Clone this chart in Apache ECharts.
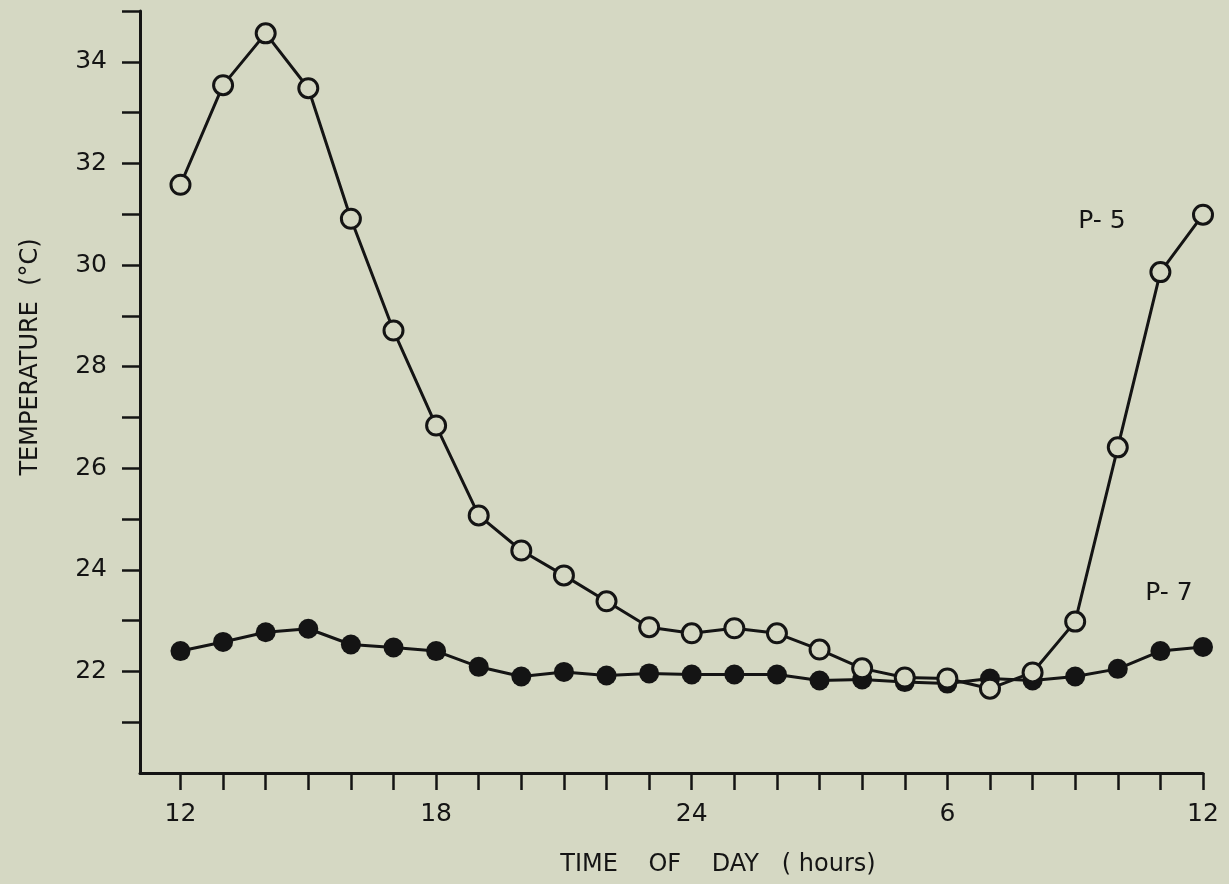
<!DOCTYPE html>
<html>
<head>
<meta charset="utf-8">
<script src="https://cdn.jsdelivr.net/npm/echarts@6/dist/echarts.min.js"></script>
<style>
html,body{margin:0;padding:0;background:#d5d8c3;}
#chart{width:1229px;height:884px;}
</style>
</head>
<body>
<div id="chart"></div>
<script>
// Hours (continuous: 12 .. 36, where 36 = noon next day)
const hours = [12,13,14,15,16,17,18,19,20,21,22,23,24,25,26,27,28,29,30,31,32,33,34,35,36];
// P-5 (open circles)
const p5 = [31.58,33.54,34.56,33.48,30.91,28.71,26.84,25.07,24.38,23.89,23.38,22.87,22.75,22.85,22.75,22.43,22.06,21.88,21.86,21.66,21.98,22.98,26.41,29.86,30.99];
// P-7 (filled circles)
const p7 = [22.40,22.58,22.77,22.84,22.53,22.47,22.40,22.09,21.90,21.99,21.92,21.96,21.94,21.94,21.94,21.82,21.84,21.79,21.76,21.86,21.82,21.90,22.05,22.40,22.48];
const xTickValues = [12,13,14,15,16,17,18,19,20,21,22,23,24,25,26,27,28,29,30,31,32,33,34,35,36];
const xLabelValues = [12,18,24,30,36];
const xLabelText = {12:'12',18:'18',24:'24',30:'6',36:'12'};
const yTickValues = [21,22,23,24,25,26,27,28,29,30,31,32,33,34,35];
const yLabelValues = [22,24,26,28,30,32,34];

const BG = '#d5d8c3';
const INK = '#141414';
const FONT = 'DejaVu Sans';

const chart = echarts.init(document.getElementById('chart'), null, {renderer:'canvas'});
chart.setOption({
  backgroundColor: BG,
  animation: false,
  grid: {left:140, right:26, top:11, bottom:111, containLabel:false},
  xAxis: {
    type:'value', min:11.05, max:36,
    axisLine:{show:true, lineStyle:{color:INK, width:3}},
    axisTick:{show:true, inside:false, length:17, lineStyle:{color:INK, width:2.5}, customValues:xTickValues},
    axisLabel:{show:true, margin:29, color:INK, fontSize:25, fontFamily:FONT, customValues:xLabelValues,
      formatter:v=>xLabelText[v] !== undefined ? xLabelText[v] : ''},
    splitLine:{show:false}
  },
  yAxis: {
    type:'value', min:20, max:35,
    axisLine:{show:true, lineStyle:{color:INK, width:3}},
    axisTick:{show:true, inside:false, length:18, lineStyle:{color:INK, width:2.5}, customValues:yTickValues},
    axisLabel:{show:true, margin:33, color:INK, fontSize:25, fontFamily:FONT, customValues:yLabelValues},
    splitLine:{show:false}
  },
  series: [
    {
      name:'P-7', type:'line',
      data: hours.map((h,i)=>[h,p7[i]]),
      symbol:'circle', symbolSize:20,
      itemStyle:{color:INK, borderColor:INK, borderWidth:0},
      lineStyle:{color:INK, width:3},
      z:2
    },
    {
      name:'P-5', type:'line',
      data: hours.map((h,i)=>[h,p5[i]]),
      symbol:'circle', symbolSize:19,
      itemStyle:{color:BG, borderColor:INK, borderWidth:3},
      lineStyle:{color:INK, width:3},
      z:3
    }
  ],
  graphic: [
    {type:'text', position:[718,865], style:{text:'TIME    OF    DAY   ( hours)', font:'24px "DejaVu Sans"', fill:INK, textAlign:'center', textVerticalAlign:'middle'}},
    {type:'text', rotation:Math.PI/2, position:[31,357], style:{text:'TEMPERATURE  (°C)', font:'24px "DejaVu Sans"', fill:INK, textAlign:'center', textVerticalAlign:'middle'}},
    {type:'text', position:[1102,221], style:{text:'P- 5', font:'25px "DejaVu Sans"', fill:INK, textAlign:'center', textVerticalAlign:'middle'}},
    {type:'text', position:[1169,593], style:{text:'P- 7', font:'25px "DejaVu Sans"', fill:INK, textAlign:'center', textVerticalAlign:'middle'}}
  ]
});
</script>
</body>
</html>
